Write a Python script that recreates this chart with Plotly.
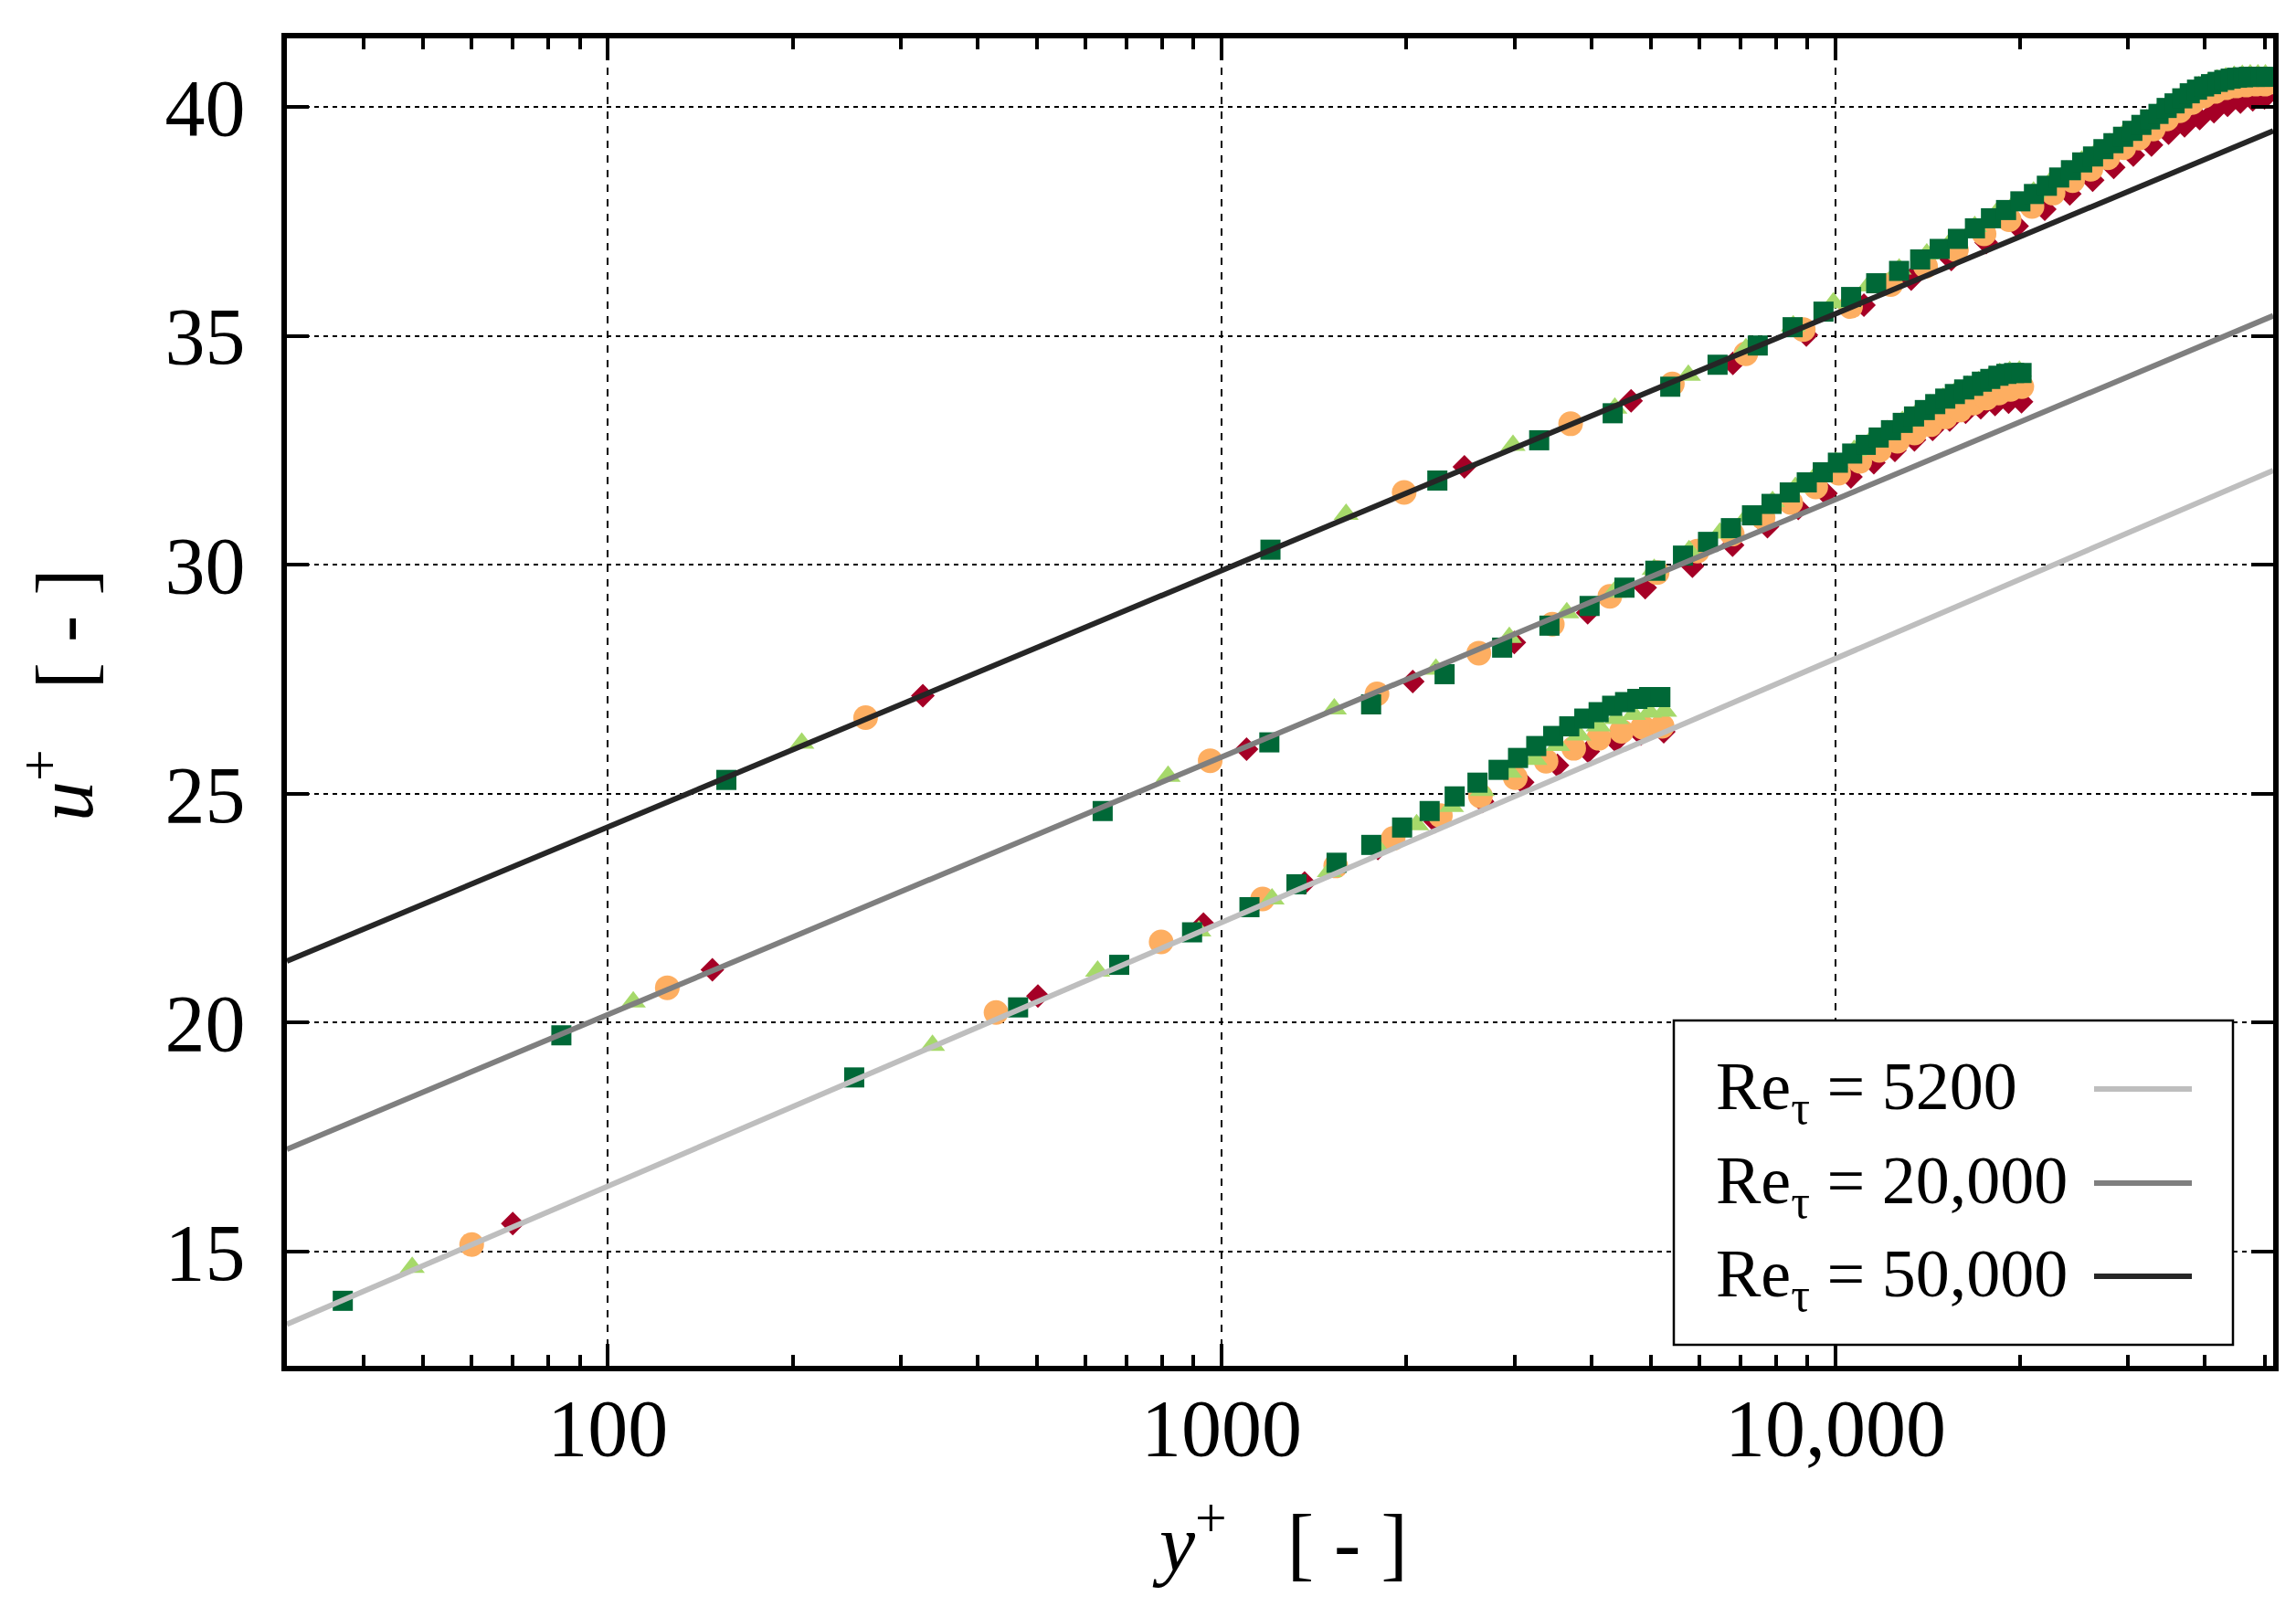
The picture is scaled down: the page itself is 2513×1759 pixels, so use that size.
import plotly.graph_objects as go

# ---------------- data ----------------
# Re_tau = 5200
yp_5200_sq = [37, 252, 466, 681, 895, 1110, 1324, 1539, 1753, 1968, 2182, 2397, 2611, 2826, 3040,
              3255, 3469, 3684, 3898, 4113, 4327, 4542, 4756, 4971, 5185]
up_5200_sq = [13.92, 18.80, 20.33, 21.26, 21.97, 22.52, 23.02, 23.49, 23.88, 24.26, 24.62, 24.94, 25.24,
              25.52, 25.78, 26.04, 26.26, 26.47, 26.64, 26.78, 26.92, 27.00, 27.07, 27.11, 27.11]
yp_5200_tri = [48, 338, 628, 918, 1208, 1498, 1788, 2078, 2368, 2658, 2948, 3238, 3528, 3818, 4108,
               4398, 4688, 4978, 5268]
up_5200_tri = [14.65, 19.50, 21.12, 22.00, 22.70, 23.30, 23.85, 24.32, 24.72, 25.07, 25.47, 25.75,
               26.05, 26.28, 26.48, 26.64, 26.73, 26.78, 26.80]
yp_5200_cir = [60, 429, 797, 1166, 1534, 1903, 2272, 2640, 3009, 3377, 3746, 4115, 4483, 4852, 5220]
up_5200_cir = [15.15, 20.22, 21.76, 22.70, 23.42, 24.02, 24.52, 24.95, 25.35, 25.71, 25.99, 26.21,
               26.36, 26.45, 26.47]
yp_5200_dia = [70, 502, 934, 1365, 1797, 2229, 2661, 3093, 3524, 3956, 4388, 4820, 5252]
up_5200_dia = [15.61, 20.58, 22.15, 23.05, 23.80, 24.39, 24.83, 25.25, 25.62, 25.92, 26.15, 26.30, 26.35]

# Re_tau = 20,000
yp_20k_sq = [84, 640, 1196, 1752, 2308, 2864, 3420, 3976, 4532, 5088, 5644, 6200, 6756, 7312, 7868,
             8424, 8980, 9536, 10092, 10648, 11204, 11760, 12316, 12872, 13428, 13984, 14540, 15096,
             15652, 16208, 16764, 17320, 17876, 18432, 18988, 19544, 20100]
up_20k_sq = [19.72, 24.62, 26.12, 26.95, 27.61, 28.19, 28.67, 29.10, 29.50, 29.87, 30.20, 30.50, 30.80,
             31.08, 31.33, 31.58, 31.80, 32.02, 32.23, 32.43, 32.62, 32.78, 32.94, 33.10, 33.24, 33.38,
             33.51, 33.63, 33.73, 33.83, 33.91, 34.00, 34.06, 34.13, 34.17, 34.19, 34.19]
yp_20k_tri = [110, 818, 1526, 2234, 2942, 3650, 4358, 5066, 5774, 6482, 7190, 7898, 8606, 9314, 10022,
              10730, 11438, 12146, 12854, 13562, 14270, 14978, 15686, 16394, 17102, 17810, 18518,
              19226, 19934]
up_20k_tri = [20.45, 25.38, 26.85, 27.72, 28.41, 28.95, 29.40, 29.90, 30.31, 30.69, 31.06, 31.38, 31.69,
              31.97, 32.24, 32.50, 32.73, 32.93, 33.13, 33.31, 33.49, 33.64, 33.78, 33.90, 34.00, 34.09,
              34.18, 34.22, 34.23]
yp_20k_cir = [125, 958, 1791, 2624, 3457, 4290, 5123, 5956, 6789, 7622, 8455, 9288, 10121, 10954, 11787,
              12620, 13453, 14286, 15119, 15952, 16785, 17618, 18451, 19284, 20117]
up_20k_cir = [20.76, 25.72, 27.18, 28.07, 28.70, 29.31, 29.83, 30.30, 30.67, 31.03, 31.36, 31.70, 32.00,
              32.26, 32.50, 32.70, 32.88, 33.06, 33.23, 33.38, 33.53, 33.64, 33.75, 33.83, 33.89]
yp_20k_dia = [148, 1098, 2048, 2998, 3948, 4898, 5848, 6798, 7748, 8698, 9648, 10598, 11548, 12498,
              13448, 14398, 15348, 16298, 17248, 18198, 19148, 20098]
up_20k_dia = [21.15, 25.97, 27.45, 28.30, 28.95, 29.50, 29.97, 30.43, 30.83, 31.23, 31.56, 31.92, 32.23,
              32.50, 32.73, 32.96, 33.16, 33.33, 33.43, 33.50, 33.55, 33.56]

# Re_tau = 50,000
yp_50k_sq = [156, 1201, 2246, 3291, 4336, 5381, 6426, 7471, 8516, 9561, 10606, 11651, 12696, 13741,
             14786, 15831, 16876, 17921, 18966, 20011, 21056, 22101, 23146, 24191, 25236, 26281, 27326,
             28371, 29416, 30461, 31506, 32551, 33596, 34641, 35686, 36731, 37776, 38821, 39866, 40911,
             41956, 43001, 44046, 45091, 46136, 47181, 48226, 49271, 50316]
up_50k_sq = [25.30, 30.33, 31.84, 32.72, 33.31, 33.89, 34.37, 34.79, 35.19, 35.53, 35.85, 36.15, 36.42,
             36.67, 36.90, 37.12, 37.35, 37.57, 37.75, 37.94, 38.10, 38.28, 38.46, 38.62, 38.79, 38.92,
             39.08, 39.21, 39.35, 39.48, 39.61, 39.73, 39.85, 39.98, 40.08, 40.19, 40.30, 40.38, 40.45,
             40.50, 40.55, 40.59, 40.62, 40.64, 40.65, 40.66, 40.66, 40.66, 40.66]
yp_50k_tri = [207, 1595, 2983, 4371, 5759, 7147, 8535, 9923, 11311, 12699, 14087, 15475, 16863, 18251,
              19639, 21027, 22415, 23803, 25191, 26579, 27967, 29355, 30743, 32131, 33519, 34907, 36295,
              37683, 39071, 40459, 41847, 43235, 44623, 46011, 47399, 48787, 50175]
up_50k_tri = [26.10, 31.10, 32.61, 33.42, 34.14, 34.72, 35.22, 35.72, 36.09, 36.46, 36.79, 37.09, 37.39,
              37.67, 37.91, 38.14, 38.37, 38.60, 38.82, 39.01, 39.20, 39.38, 39.56, 39.72, 39.88, 40.05,
              40.18, 40.33, 40.44, 40.52, 40.59, 40.64, 40.67, 40.69, 40.70, 40.70, 40.70]
yp_50k_cir = [263, 1983, 3703, 5423, 7143, 8863, 10583, 12303, 14023, 15743, 17463, 19183, 20903, 22623,
              24343, 26063, 27783, 29503, 31223, 32943, 34663, 36383, 38103, 39823, 41543, 43263, 44983,
              46703, 48423, 50143]
up_50k_cir = [26.66, 31.58, 33.08, 33.95, 34.61, 35.14, 35.64, 36.12, 36.52, 36.88, 37.23, 37.54, 37.83,
              38.12, 38.39, 38.64, 38.89, 39.11, 39.32, 39.52, 39.74, 39.92, 40.10, 40.24, 40.34, 40.42,
              40.46, 40.48, 40.50, 40.50]
yp_50k_dia = [326, 2486, 4646, 6806, 8966, 11126, 13286, 15446, 17606, 19766, 21926, 24086, 26246,
              28406, 30566, 32726, 34886, 37046, 39206, 41366, 43526, 45686, 47846, 50006]
up_50k_dia = [27.14, 32.14, 33.58, 34.40, 35.02, 35.67, 36.24, 36.67, 37.04, 37.40, 37.77, 38.10, 38.40,
              38.68, 38.95, 39.17, 39.43, 39.59, 39.75, 39.90, 40.04, 40.11, 40.16, 40.20]

# log-law reference lines (end points at the axis limits)
line_x = [30, 51660]
line_5200 = [13.41, 32.06]
line_20k = [17.23, 35.44]
line_50k = [21.34, 39.48]

legend_labels = ["Re<sub>τ</sub> = 5200", "Re<sub>τ</sub> = 20,000", "Re<sub>τ</sub> = 50,000"]
x_tickvals = [100, 1000, 10000]
x_ticktext = ["100", "1000", "10,000"]
x_minor = [40, 50, 60, 70, 80, 90, 200, 300, 400, 500, 600, 700, 800, 900,
           2000, 3000, 4000, 5000, 6000, 7000, 8000, 9000, 20000, 30000, 40000, 50000]
y_tickvals = [15, 20, 25, 30, 35, 40]

# ---------------- styles ----------------
C_DIA = "#A50026"
C_CIR = "#FDAE61"
C_TRI = "#A6D96A"
C_SQ = "#006837"
L_COLORS = ["#BEBEBE", "#7F7F7F", "#262626"]
FONT = "Liberation Serif, Times New Roman, serif"

fig = go.Figure()

groups = [
    (yp_5200_dia, up_5200_dia, yp_5200_cir, up_5200_cir, yp_5200_tri, up_5200_tri, yp_5200_sq, up_5200_sq),
    (yp_20k_dia, up_20k_dia, yp_20k_cir, up_20k_cir, yp_20k_tri, up_20k_tri, yp_20k_sq, up_20k_sq),
    (yp_50k_dia, up_50k_dia, yp_50k_cir, up_50k_cir, yp_50k_tri, up_50k_tri, yp_50k_sq, up_50k_sq),
]
for xd, yd, xc, yc, xt, yt, xs, ys in groups:
    fig.add_trace(go.Scatter(x=xd, y=yd, mode="markers", showlegend=False,
                             marker=dict(symbol="diamond", size=20, color=C_DIA, line=dict(width=0))))
    fig.add_trace(go.Scatter(x=xc, y=yc, mode="markers", showlegend=False,
                             marker=dict(symbol="circle", size=27, color=C_CIR, line=dict(width=0))))
    fig.add_trace(go.Scatter(x=xt, y=yt, mode="markers", showlegend=False,
                             marker=dict(symbol="triangle-up", size=24, color=C_TRI, line=dict(width=0))))
    fig.add_trace(go.Scatter(x=xs, y=ys, mode="markers", showlegend=False,
                             marker=dict(symbol="square", size=22, color=C_SQ, line=dict(width=0))))

for ly, col in zip([line_5200, line_20k, line_50k], L_COLORS):
    fig.add_trace(go.Scatter(x=line_x, y=ly, mode="lines", showlegend=False,
                             line=dict(color=col, width=6)))

# ---------------- layout ----------------
# the page body adds an 8 px offset, so the figure is laid out 8 px smaller
OFF = 8
W, H = 2513 - OFF, 1759 - OFF
L, R, T, B = 314 - OFF, 25, 42 - OFF, 264
pw, ph = W - L - R, H - T - B

def px_x(x):
    # x in reference-image pixels -> paper fraction
    return (x - OFF - L) / pw

def px_y(y):
    return (H - B - (y - OFF)) / ph

fig.update_layout(
    width=W, height=H,
    margin=dict(l=L, r=R, t=T, b=B),
    paper_bgcolor="white", plot_bgcolor="white",
    font=dict(family=FONT, size=88, color="black"),
    showlegend=False,
)
fig.update_xaxes(
    type="log", range=[1.47712, 4.7131],
    tickmode="array", tickvals=x_tickvals, ticktext=x_ticktext,
    ticks="inside", ticklen=24, tickwidth=3.5, tickcolor="black",
    showline=True, linewidth=6, linecolor="black", mirror="allticks",
    showgrid=True, gridcolor="black", gridwidth=1.5, griddash="8px,8px",
    minor=dict(tickmode="array", tickvals=x_minor, ticks="inside", ticklen=12,
               tickwidth=3.5, tickcolor="black", showgrid=False),
    tickfont=dict(family=FONT, size=88), ticklabelstandoff=-14,
    zeroline=False,
)
fig.update_yaxes(
    range=[12.5, 41.5],
    tickmode="array", tickvals=y_tickvals,
    ticks="inside", ticklen=24, tickwidth=3.5, tickcolor="black",
    showline=True, linewidth=6, linecolor="black", mirror="allticks",
    showgrid=True, gridcolor="black", gridwidth=1.5, griddash="5px,5px",
    tickfont=dict(family=FONT, size=88), ticklabelstandoff=22,
    zeroline=False,
)

nb = "\u00a0"
fig.add_annotation(xref="paper", yref="paper", x=0.5, y=px_y(1682),
                   text="<i>y</i><sup>+</sup>" + nb * 3 + "[" + nb + "-" + nb + "]",
                   showarrow=False, xanchor="center", yanchor="middle",
                   font=dict(family=FONT, size=88, color="black"))
fig.add_annotation(xref="paper", yref="paper", x=px_x(64), y=px_y(761),
                   text="<i>u</i><sup>+</sup>" + nb * 3 + "[" + nb + "-" + nb + "]",
                   showarrow=False, textangle=-90, xanchor="center", yanchor="middle",
                   font=dict(family=FONT, size=88, color="black"))

# legend box (text on the left, line sample on the right)
fig.add_shape(type="rect", xref="paper", yref="paper",
              x0=px_x(1832), x1=px_x(2444), y0=px_y(1472), y1=px_y(1117),
              line=dict(color="black", width=2.5), fillcolor="white", layer="above")
row_y = [1192, 1295, 1397]
for lab, ry, col in zip(legend_labels, row_y, L_COLORS):
    fig.add_annotation(xref="paper", yref="paper", x=px_x(1876), y=px_y(ry + 2),
                       text=lab, showarrow=False, xanchor="left", yanchor="middle",
                       font=dict(family=FONT, size=74, color="black"))
    fig.add_shape(type="line", xref="paper", yref="paper",
                  x0=px_x(2292), x1=px_x(2399), y0=px_y(ry), y1=px_y(ry),
                  line=dict(color=col, width=6), layer="above")

fig.write_html("out.html")
